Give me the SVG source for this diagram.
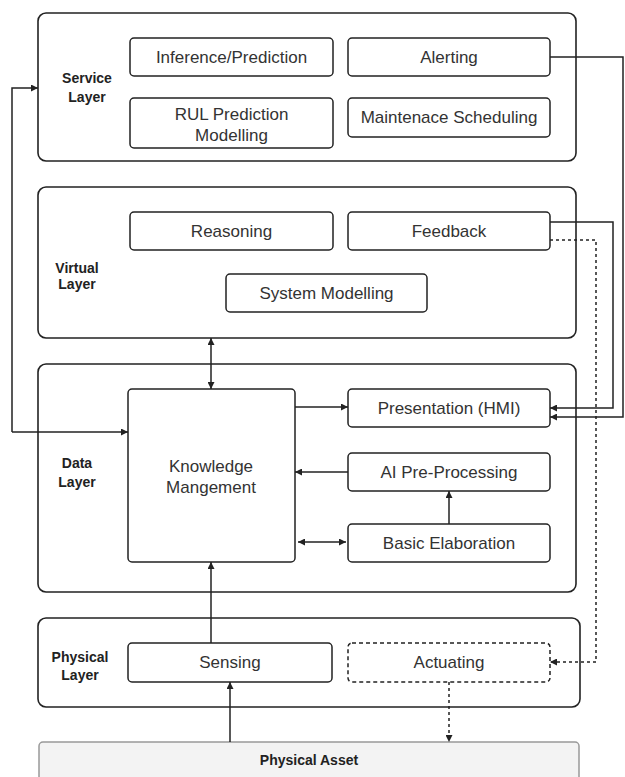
<svg xmlns="http://www.w3.org/2000/svg" width="625" height="777" viewBox="0 0 625 777">
<style>
.layer{fill:#fff;stroke:#222;stroke-width:1.6}
.box{fill:#fff;stroke:#222;stroke-width:1.5}
.dbox{fill:#fff;stroke:#222;stroke-width:1.5;stroke-dasharray:4 3}
.t{font-family:"Liberation Sans",Arial,sans-serif;font-size:17px;fill:#333;text-anchor:middle}
.lb{font-family:"Liberation Sans",Arial,sans-serif;font-size:14px;font-weight:bold;fill:#222;text-anchor:middle}
.c{fill:none;stroke:#222;stroke-width:1.5}
.d{fill:none;stroke:#222;stroke-width:1.5;stroke-dasharray:3 3}
</style>
<defs>
<marker id="ah" viewBox="0 0 10 10" refX="10" refY="5" markerWidth="7" markerHeight="7" orient="auto-start-reverse" markerUnits="userSpaceOnUse">
<path d="M0,0 L10,5 L0,10 z" fill="#222"/>
</marker>
</defs>
<g id="service-layer">
<rect class="layer" x="38" y="13" width="538" height="148" rx="8"/>
<text class="lb" x="87" y="83">Service</text>
<text class="lb" x="87" y="102">Layer</text>
</g>
<g id="inference"><rect class="box" x="130" y="38" width="203" height="38" rx="4"/><text class="t" x="231.5" y="63">Inference/Prediction</text></g>
<g id="alerting"><rect class="box" x="348" y="38" width="202" height="38" rx="4"/><text class="t" x="449" y="63">Alerting</text></g>
<g id="rul"><rect class="box" x="130" y="98" width="203" height="50" rx="4"/><text class="t" x="231.5" y="120">RUL Prediction</text><text class="t" x="231.5" y="141">Modelling</text></g>
<g id="maintenance"><rect class="box" x="348" y="98" width="202" height="39" rx="4"/><text class="t" x="449" y="123">Maintenace Scheduling</text></g>

<g id="virtual-layer">
<rect class="layer" x="38" y="187" width="538" height="151" rx="8"/>
<text class="lb" x="77" y="273">Virtual</text>
<text class="lb" x="77" y="289">Layer</text>
</g>
<g id="reasoning"><rect class="box" x="130" y="212" width="203" height="38" rx="4"/><text class="t" x="231.5" y="237">Reasoning</text></g>
<g id="feedback"><rect class="box" x="348" y="212" width="202" height="38" rx="4"/><text class="t" x="449" y="237">Feedback</text></g>
<g id="system-modelling"><rect class="box" x="226" y="274" width="201" height="38" rx="4"/><text class="t" x="326.5" y="299">System Modelling</text></g>

<g id="data-layer">
<rect class="layer" x="38" y="364" width="538" height="228" rx="8"/>
<text class="lb" x="77" y="468">Data</text>
<text class="lb" x="77" y="487">Layer</text>
</g>
<g id="knowledge"><rect class="box" x="128" y="389" width="167" height="173" rx="4"/><text class="t" x="211" y="472">Knowledge</text><text class="t" x="211" y="493">Mangement</text></g>
<g id="presentation"><rect class="box" x="348" y="389" width="202" height="38" rx="4"/><text class="t" x="449" y="414">Presentation (HMI)</text></g>
<g id="ai-preprocessing"><rect class="box" x="348" y="453" width="202" height="38" rx="4"/><text class="t" x="449" y="478">AI Pre-Processing</text></g>
<g id="basic-elaboration"><rect class="box" x="348" y="524" width="202" height="38" rx="4"/><text class="t" x="449" y="549">Basic Elaboration</text></g>

<g id="physical-layer">
<rect class="layer" x="38" y="618" width="542" height="89" rx="8"/>
<text class="lb" x="80" y="662">Physical</text>
<text class="lb" x="80" y="680">Layer</text>
</g>
<g id="sensing"><rect class="box" x="128" y="643" width="204" height="39" rx="4"/><text class="t" x="230" y="668">Sensing</text></g>
<g id="actuating"><rect class="dbox" x="348" y="643" width="202" height="39" rx="4"/><text class="t" x="449" y="668">Actuating</text></g>

<g id="physical-asset">
<rect x="39" y="742" width="540" height="50" rx="4" fill="#f3f3f3" stroke="#999" stroke-width="1.5"/>
<text class="lb" x="309" y="765">Physical Asset</text>
</g>

<g id="connectors">
<path class="c" d="M12,432 L12,88 L38,88" marker-end="url(#ah)"/>
<path class="c" d="M12,432 L128,432" marker-end="url(#ah)"/>
<path class="c" d="M550,57 L623,57 L623,417 L550,417" marker-end="url(#ah)"/>
<path class="c" d="M550,222 L613,222 L613,408 L550,408" marker-end="url(#ah)"/>
<path class="d" d="M550,240 L596,240 L596,662 L550,662" marker-end="url(#ah)"/>
<path class="c" d="M211,338 L211,389" marker-start="url(#ah)" marker-end="url(#ah)"/>
<path class="c" d="M295,407 L348,407" marker-end="url(#ah)"/>
<path class="c" d="M348,472 L295,472" marker-end="url(#ah)"/>
<path class="c" d="M298,542 L346,542" marker-start="url(#ah)" marker-end="url(#ah)"/>
<path class="c" d="M449,524 L449,491" marker-end="url(#ah)"/>
<path class="c" d="M211,643 L211,562" marker-end="url(#ah)"/>
<path class="c" d="M230,742 L230,682" marker-end="url(#ah)"/>
<path class="d" d="M449,682 L449,742" marker-end="url(#ah)"/>
</g>
</svg>
